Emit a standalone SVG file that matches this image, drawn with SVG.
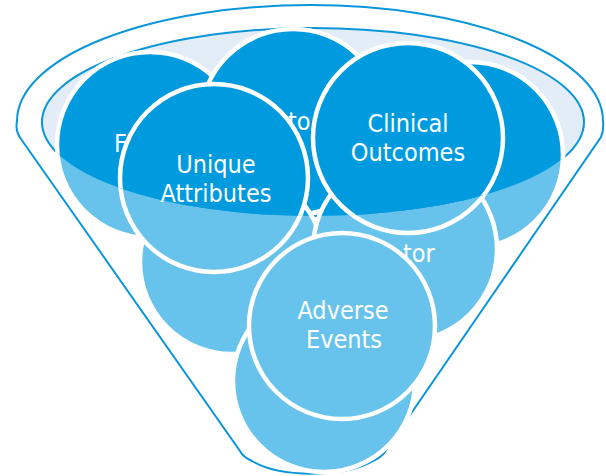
<svg xmlns="http://www.w3.org/2000/svg" xmlns:xlink="http://www.w3.org/1999/xlink" width="606" height="476" viewBox="0 0 606 476">
  <style>
    .outline { fill: #ffffff; stroke: #0a96d8; stroke-width: 2; }
    .bowl { fill: #e2edf8; stroke: #0a96d8; stroke-width: 2; }
    .node circle { stroke: #ffffff; stroke-width: 4.5; }
    .node text { fill: #ffffff; font-family: "DejaVu Sans Condensed", "DejaVu Sans", sans-serif; font-stretch: condensed; font-size: 25px; font-weight: 300; }
    .c { text-anchor: middle; }
  </style>
  <defs>
    <clipPath id="bowlClip">
      <ellipse cx="313" cy="122" rx="271" ry="94"/>
    </clipPath>
  </defs>

  <path id="funnel" class="outline" d="M 21 139 Q 15 131 17 121 A 293 116 0 0 1 603 121 Q 604 130 601 137 L 386 450 Q 383 456 375 460 C 345 478 280 478 252 461 Q 243 457 240 451 Z"/>
  <ellipse id="opening" class="bowl" cx="313" cy="122" rx="271" ry="94"/>

  <g fill="#67c3eb">
    <g id="nodes">
      <g id="node-f" class="node">
        <circle cx="150" cy="145" r="93"/>
        <text x="114" y="152">F</text>
      </g>
      <g id="node-top" class="node">
        <circle cx="293" cy="122" r="93"/>
        <text x="288" y="130">to</text>
      </g>
      <g id="node-right" class="node">
        <circle cx="470" cy="155" r="93"/>
      </g>
      <g id="node-lowleft" class="node">
        <circle cx="232" cy="262" r="92"/>
      </g>
      <g id="node-lowright" class="node">
        <circle cx="405" cy="249" r="92"/>
        <text x="403" y="262">tor</text>
      </g>
      <g id="node-bottom" class="node">
        <circle cx="324" cy="381" r="91"/>
      </g>
      <g id="node-unique" class="node">
        <circle cx="214" cy="178" r="94"/>
        <text class="c" x="216" y="173">Unique</text>
        <text class="c" x="216" y="202">Attributes</text>
      </g>
      <g id="node-clinical" class="node">
        <circle cx="408" cy="138" r="95"/>
        <text class="c" x="408" y="132">Clinical</text>
        <text class="c" x="408" y="161">Outcomes</text>
      </g>
      <g id="node-adverse" class="node">
        <circle cx="342" cy="326" r="93"/>
        <text class="c" x="343" y="319">Adverse</text>
        <text class="c" x="344" y="348">Events</text>
      </g>
    </g>
  </g>

  <g clip-path="url(#bowlClip)">
    <use xlink:href="#nodes" href="#nodes" fill="#009bdf"/>
  </g>
</svg>
